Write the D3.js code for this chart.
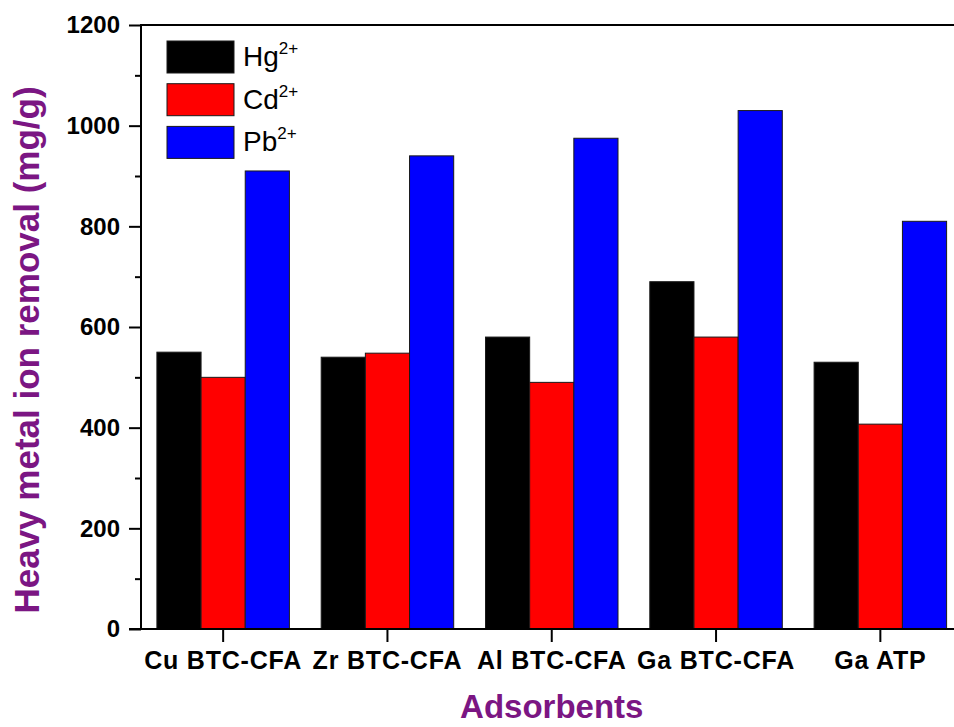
<!DOCTYPE html>
<html>
<head>
<meta charset="utf-8">
<script src="https://cdn.jsdelivr.net/npm/d3@7"></script>
<style>
  html, body { margin: 0; padding: 0; background: #fff; }
  svg { display: block; font-family: Arial, "Liberation Sans", sans-serif; }
</style>
</head>
<body>
<svg id="chart" width="954" height="727"></svg>
<script>
// Adsorbent categories and removal capacity (mg/g) for each metal ion
const categories = ["Cu BTC-CFA", "Zr BTC-CFA", "Al BTC-CFA", "Ga BTC-CFA", "Ga ATP"];
const seriesNames = ["Hg", "Cd", "Pb"];
const seriesColors = ["#000000", "#ff0000", "#0000ff"];
const hgValues = [550, 540, 580, 690, 530];
const cdValues = [500, 548, 490, 580, 407];
const pbValues = [910, 940, 975, 1030, 810];
const yMajorTicks = [0, 200, 400, 600, 800, 1000, 1200];
const yMinorTicks = [100, 300, 500, 700, 900, 1100];

const seriesValues = [hgValues, cdValues, pbValues];

const svg = d3.select("#chart");
const plotLeft = 141, plotRight = 962.5, plotTop = 25, plotBottom = 629;
const purple = "#7b1683";

const x = d3.scaleBand().domain(categories).range([plotLeft, plotRight]).padding(0);
const xs = d3.scaleBand().domain(seriesNames).range([0, x.bandwidth()])
  .paddingInner(0).paddingOuter(0.36);
const y = d3.scaleLinear().domain([0, 1200]).range([plotBottom, plotTop]);

// Bars
seriesNames.forEach((s, si) => {
  svg.append("g").selectAll("rect")
    .data(categories.map((c, i) => ({ c, v: seriesValues[si][i] })))
    .join("rect")
    .attr("x", d => x(d.c) + xs(s))
    .attr("y", d => y(d.v))
    .attr("width", xs.bandwidth())
    .attr("height", d => y(0) - y(d.v))
    .attr("fill", seriesColors[si])
    .attr("stroke", "#1a1a1a")
    .attr("stroke-width", 1);
});

// Left axis: major ticks with labels
const yAxis = svg.append("g")
  .attr("transform", `translate(${plotLeft},0)`)
  .call(d3.axisLeft(y).tickValues(yMajorTicks).tickFormat(d3.format("d"))
    .tickSize(12).tickPadding(9).tickSizeOuter(0));
yAxis.select(".domain").remove();
yAxis.selectAll(".tick line").attr("stroke", "#000").attr("stroke-width", 2);
yAxis.selectAll(".tick text")
  .attr("font-size", 24).attr("font-weight", "bold").attr("fill", "#000")
  .attr("font-family", "Arial, 'Liberation Sans', sans-serif");

// Left axis: minor ticks
const yMinor = svg.append("g")
  .attr("transform", `translate(${plotLeft},0)`)
  .call(d3.axisLeft(y).tickValues(yMinorTicks).tickSize(6).tickFormat(""));
yMinor.select(".domain").remove();
yMinor.selectAll(".tick line").attr("stroke", "#000").attr("stroke-width", 2);

// Bottom axis
const xAxis = svg.append("g")
  .attr("transform", `translate(0,${plotBottom})`)
  .call(d3.axisBottom(x).tickSize(13).tickPadding(9).tickSizeOuter(0));
xAxis.select(".domain").remove();
xAxis.selectAll(".tick line").attr("stroke", "#000").attr("stroke-width", 2);
xAxis.selectAll(".tick text")
  .attr("font-size", 25).attr("font-weight", "bold").attr("fill", "#000")
  .attr("letter-spacing", 0.8)
  .attr("dy", "0.71em")
  .attr("font-family", "Arial, 'Liberation Sans', sans-serif");

// Frame lines
svg.append("line").attr("x1", plotLeft).attr("x2", 954).attr("y1", plotTop).attr("y2", plotTop)
  .attr("stroke", "#000").attr("stroke-width", 2);
svg.append("line").attr("x1", plotLeft - 12).attr("x2", 954).attr("y1", plotBottom).attr("y2", plotBottom)
  .attr("stroke", "#000").attr("stroke-width", 2);
svg.append("line").attr("x1", plotLeft).attr("x2", plotLeft).attr("y1", plotTop - 1).attr("y2", plotBottom + 1)
  .attr("stroke", "#000").attr("stroke-width", 2);

// Axis titles
svg.append("text")
  .attr("transform", `translate(39,350) rotate(-90)`)
  .attr("text-anchor", "middle")
  .attr("font-size", 35).attr("font-weight", "bold").attr("fill", purple)
  .text("Heavy metal ion removal (mg/g)");
svg.append("text")
  .attr("x", (plotLeft + plotRight) / 2).attr("y", 718)
  .attr("text-anchor", "middle")
  .attr("font-size", 33).attr("font-weight", "bold").attr("fill", purple)
  .text("Adsorbents");

// Legend
const legend = svg.append("g").attr("transform", "translate(167,41)");
seriesNames.forEach((s, i) => {
  const g = legend.append("g").attr("transform", `translate(0,${i * 42.7})`);
  g.append("rect").attr("width", 67).attr("height", 32)
    .attr("fill", seriesColors[i]).attr("stroke", "#1a1a1a").attr("stroke-width", 1);
  const t = g.append("text").attr("x", 76).attr("y", 25).attr("font-size", 28).attr("fill", "#000");
  t.append("tspan").text(s);
  t.append("tspan").attr("font-size", 17).attr("dy", -12).text("2+");
});
</script>
</body>
</html>
